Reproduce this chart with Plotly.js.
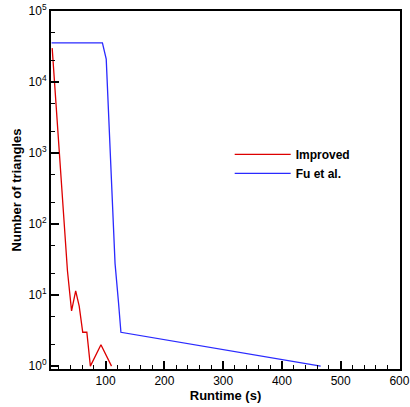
<!DOCTYPE html>
<html>
<head>
<meta charset="utf-8">
<script src="https://cdn.plot.ly/plotly-3.0.1.min.js"></script>
<style>html,body{margin:0;padding:0;background:#fff;}#chart{width:410px;height:407px;}</style>
</head>
<body>
<div id="chart"></div>
<script>
const improvedX = [9, 35, 42, 49, 55, 61, 68, 74, 92, 110];
const improvedY = [30000, 22, 6, 11.5, 7, 3, 3, 1, 2, 1];
const fuX = [8, 94.5, 101, 105, 110.6, 116, 122, 126, 466];
const fuY = [35500, 35500, 21000, 4000, 413, 28, 7.7, 3, 1];
const yTickVals = [1, 10, 100, 1000, 10000, 100000];
const yTickText = ['10<sup>0</sup>', '10<sup>1</sup>', '10<sup>2</sup>', '10<sup>3</sup>', '10<sup>4</sup>', '10<sup>5</sup>'];

const font = {family: 'Liberation Sans, Arial, sans-serif', color: '#000'};
const data = [
  {x: improvedX, y: improvedY, type: 'scatter', mode: 'lines', name: '<b>Improved</b>',
   line: {color: '#dd0000', width: 1.3}},
  {x: fuX, y: fuY, type: 'scatter', mode: 'lines', name: '<b>Fu et al.</b>',
   line: {color: '#2a2aff', width: 1.3}}
];
const layout = {
  width: 410, height: 407,
  margin: {l: 51, r: 10, t: 11, b: 38},
  paper_bgcolor: '#fff', plot_bgcolor: 'rgba(0,0,0,0)',
  font: Object.assign({size: 12}, font),
  showlegend: true,
  legend: {x: 0.512, y: 0.64, xanchor: 'left', yanchor: 'top', bgcolor: 'rgba(0,0,0,0)',
           font: Object.assign({size: 12}, font), tracegroupgap: 0, itemwidth: 56},
  xaxis: {
    range: [7, 601], tickmode: 'linear', tick0: 0, dtick: 100,
    ticks: 'inside', ticklen: 8, tickwidth: 2, tickcolor: '#000',
    minor: {tickmode: 'linear', tick0: 0, dtick: 20, ticks: 'inside', ticklen: 4, tickwidth: 1, tickcolor: '#000', showgrid: false},
    showline: true, linecolor: '#000', linewidth: 2, mirror: true,
    showgrid: false, zeroline: false,
    tickfont: Object.assign({size: 12}, font),
    title: {text: '<b>Runtime (s)</b>', font: Object.assign({size: 13}, font), standoff: 0}
  },
  yaxis: {
    type: 'log', range: [-0.04, 5],
    tickmode: 'array', tickvals: yTickVals, ticktext: yTickText,
    ticks: 'inside', ticklen: 8, tickwidth: 2, tickcolor: '#000',
    minor: {ticks: 'inside', ticklen: 4, tickwidth: 1, tickcolor: '#000', showgrid: false},
    showline: true, linecolor: '#000', linewidth: 2, mirror: true,
    showgrid: false, zeroline: false,
    tickfont: Object.assign({size: 12}, font),
    title: {text: '<b>Number of triangles</b>', font: Object.assign({size: 13}, font), standoff: 4}
  }
};
Plotly.newPlot('chart', data, layout, {displayModeBar: false, staticPlot: true});
</script>
</body>
</html>
